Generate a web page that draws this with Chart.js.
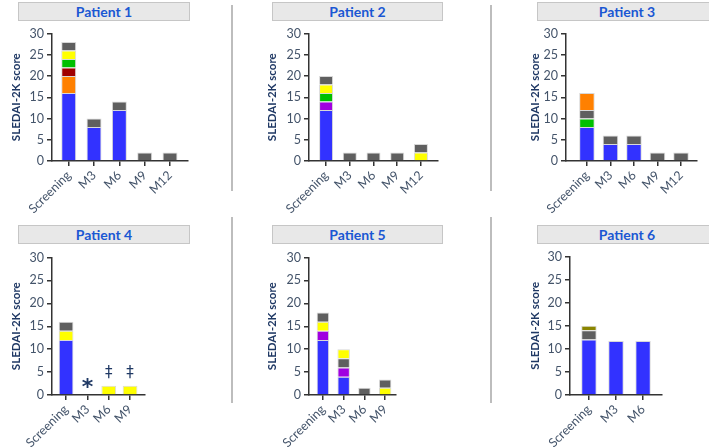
<!DOCTYPE html>
<html>
<head>
<meta charset="utf-8">
<script src="https://cdn.jsdelivr.net/npm/chart.js@4.4.1/dist/chart.umd.min.js"></script>
<style>
  body { margin: 0; width: 709px; height: 447px; overflow: hidden; position: relative; background: #fff; font-family: Lato, sans-serif; }
  .ptitle { position: absolute; box-sizing: border-box; background: #e8e8e8; border: 1px solid #c6c6c6; color: #1a57d3; font: bold 14px Lato, sans-serif; text-align: center; }
  .divider { position: absolute; width: 2px; background: #bdbdbd; }
  canvas { position: absolute; }
</style>
</head>
<body>
<script>
// categories
var labels5 = ['Screening', 'M3', 'M6', 'M9', 'M12'];
var labels4 = ['Screening', 'M3', 'M6', 'M9'];
var labels3 = ['Screening', 'M3', 'M6'];

// Patient 1 (segments bottom to top)
var p1Blue   = [16, 8, 12, 0, 0];
var p1Orange = [4, 0, 0, 0, 0];
var p1Red    = [2, 0, 0, 0, 0];
var p1Green  = [2, 0, 0, 0, 0];
var p1Yellow = [2, 0, 0, 0, 0];
var p1Gray   = [2, 2, 2, 2, 2];

// Patient 2
var p2Blue   = [12, 0, 0, 0, 0];
var p2Purple = [2, 0, 0, 0, 0];
var p2Green  = [2, 0, 0, 0, 0];
var p2Yellow = [2, 0, 0, 0, 2];
var p2Gray   = [2, 2, 2, 2, 2];

// Patient 3
var p3Blue   = [8, 4, 4, 0, 0];
var p3Green  = [2, 0, 0, 0, 0];
var p3Gray   = [2, 2, 2, 2, 2];
var p3Orange = [4, 0, 0, 0, 0];

// Patient 4
var p4Blue   = [12, 0, 0, 0];
var p4Yellow = [2, 0, 2, 2];
var p4Gray   = [2, 0, 0, 0];
var p4Marks  = ['', '*', '\u2021', '\u2021'];

// Patient 5
var p5Blue     = [12, 4, 0, 0];
var p5Purple   = [2, 2, 0, 0];
var p5YellowLo = [2, 0, 0, 1.6];
var p5Gray     = [2, 2, 1.6, 1.8];
var p5YellowHi = [0, 2, 0, 0];

// Patient 6
var p6Blue  = [12, 11.7, 11.7];
var p6Gray  = [2, 0, 0];
var p6Olive = [1, 0, 0];

var colors = {
  blue: '#3232ff', orange: '#ff8000', red: '#a00000', green: '#00c000',
  yellow: '#ffff00', gray: '#5f5f5f', purple: '#a000e0', olive: '#8a8500'
};

var panels = [
  { title: 'Patient 1', labels: labels5, titleX: 15.5, box: [18, 2, 172, 19],
    area: { left: 52, right: 188, top: 33, bottom: 161 }, xMin: -0.66, xMax: 4.71, barPct: 0.59,
    layers: [['blue', p1Blue], ['orange', p1Orange], ['red', p1Red], ['green', p1Green], ['yellow', p1Yellow], ['gray', p1Gray]] },
  { title: 'Patient 2', labels: labels5, titleX: 272, box: [272, 2, 171, 19],
    area: { left: 309, right: 438, top: 33, bottom: 161 }, xMin: -0.72, xMax: 4.72, barPct: 0.59,
    layers: [['blue', p2Blue], ['purple', p2Purple], ['green', p2Green], ['yellow', p2Yellow], ['gray', p2Gray]] },
  { title: 'Patient 3', labels: labels5, titleX: 535, box: [537, 2, 180, 19],
    area: { left: 566, right: 697, top: 33, bottom: 161 }, xMin: -0.89, xMax: 4.68, barPct: 0.66,
    layers: [['blue', p3Blue], ['green', p3Green], ['gray', p3Gray], ['orange', p3Orange]] },
  { title: 'Patient 4', labels: labels4, titleX: 15.5, box: [18, 225, 172, 19], marks: p4Marks,
    area: { left: 52, right: 145, top: 257, bottom: 395 }, xMin: -0.66, xMax: 3.7, barPct: 0.69,
    layers: [['blue', p4Blue], ['yellow', p4Yellow], ['gray', p4Gray]] },
  { title: 'Patient 5', labels: labels4, titleX: 272, box: [272, 225, 171, 19],
    area: { left: 309, right: 396, top: 257, bottom: 395 }, xMin: -0.67, xMax: 3.5, barPct: 0.6,
    layers: [['blue', p5Blue], ['purple', p5Purple], ['yellow', p5YellowLo], ['gray', p5Gray], ['yellow', p5YellowHi]] },
  { title: 'Patient 6', labels: labels3, titleX: 535, box: [537, 225, 180, 19],
    area: { left: 570, right: 662, top: 256, bottom: 395 }, xMin: -0.7, xMax: 2.7, barPct: 0.57,
    layers: [['blue', p6Blue], ['gray', p6Gray], ['olive', p6Olive]] }
];

// dividers between the columns
[[231, 5, 186], [490, 5, 186], [231, 217, 186], [490, 217, 186]].forEach(function (d) {
  var el = document.createElement('div');
  el.className = 'divider';
  el.style.left = d[0] + 'px'; el.style.top = d[1] + 'px'; el.style.height = d[2] + 'px';
  document.body.appendChild(el);
});

var markPlugin = {
  id: 'marks',
  afterDatasetsDraw: function (chart, args, opts) {
    if (!opts.marks) return;
    var ctx = chart.ctx, xs = chart.scales.x, ys = chart.scales.y;
    ctx.save();
    ctx.fillStyle = '#1f3864';
    ctx.textAlign = 'center';
    ctx.textBaseline = 'middle';
    opts.marks.forEach(function (m, i) {
      if (!m) return;
      var total = 0;
      chart.data.datasets.forEach(function (d) { total += d.data[i].y; });
      var y = ys.getPixelForValue(total);
      if (m === '*') {
        ctx.font = 'bold 22px "DejaVu Sans"';
        ctx.fillText(m, xs.getPixelForValue(i), y - 7);
      } else {
        ctx.font = '15px "DejaVu Sans"';
        ctx.fillText(m, xs.getPixelForValue(i), y - 13);
      }
    });
    ctx.restore();
  }
};

var tickColor = '#44546a';
var axisColor = '#333333';
var XH = 58, PADTOP = 10;

panels.forEach(function (p) {
  var t = document.createElement('div');
  t.className = 'ptitle';
  t.style.left = p.box[0] + 'px'; t.style.top = p.box[1] + 'px';
  t.style.width = p.box[2] + 'px'; t.style.height = p.box[3] + 'px';
  t.style.lineHeight = (p.box[3] - 2) + 'px';
  t.textContent = p.title;
  document.body.appendChild(t);

  var cLeft = Math.round(p.titleX - 7);
  var cTop = p.area.top - PADTOP;
  var canvas = document.createElement('canvas');
  canvas.width = p.area.right + 2 - cLeft;
  canvas.height = p.area.bottom + XH - cTop;
  canvas.style.left = cLeft + 'px';
  canvas.style.top = cTop + 'px';
  document.body.appendChild(canvas);

  var datasets = p.layers.map(function (l) {
    return {
      data: l[1].map(function (v, i) { return { x: i, y: v }; }),
      backgroundColor: colors[l[0]],
      borderColor: 'rgba(200,200,200,0.7)',
      borderWidth: 1,
      barPercentage: p.barPct,
      categoryPercentage: 1
    };
  });

  new Chart(canvas.getContext('2d'), {
    type: 'bar',
    data: { datasets: datasets },
    plugins: [markPlugin],
    options: {
      responsive: false,
      animation: false,
      layout: { padding: { top: PADTOP, right: 2, left: 0, bottom: 0 } },
      plugins: { legend: { display: false }, tooltip: { enabled: false }, marks: { marks: p.marks } },
      scales: {
        x: {
          type: 'linear', stacked: true, min: p.xMin, max: p.xMax, offset: false,
          afterBuildTicks: function (s) { s.ticks = p.labels.map(function (_, i) { return { value: i }; }); },
          afterFit: function (s) { s.height = XH; },
          ticks: {
            autoSkip: false, minRotation: 45, maxRotation: 45, padding: 2, color: tickColor,
            font: { family: 'Lato', size: 12.5 },
            callback: function (v) { return p.labels[v]; }
          },
          grid: { offset: false, drawOnChartArea: false, tickLength: 5, color: axisColor, lineWidth: 1.5 },
          border: { color: axisColor, width: 1.5 }
        },
        y: {
          stacked: true, min: 0, max: 30,
          afterFit: function (s) { s.width = p.area.left - cLeft; },
          ticks: { stepSize: 5, padding: 3, color: tickColor, font: { family: 'Lato', size: 12.5 } },
          grid: { drawOnChartArea: false, tickLength: 5, color: axisColor, lineWidth: 1.5 },
          border: { color: axisColor, width: 1.5 },
          title: { display: true, text: 'SLEDAI-2K score', color: '#1f3864', padding: 0,
                   font: { family: 'Lato', size: 11.5, weight: 'bold' } }
        }
      }
    }
  });
});
</script>
</body>
</html>
